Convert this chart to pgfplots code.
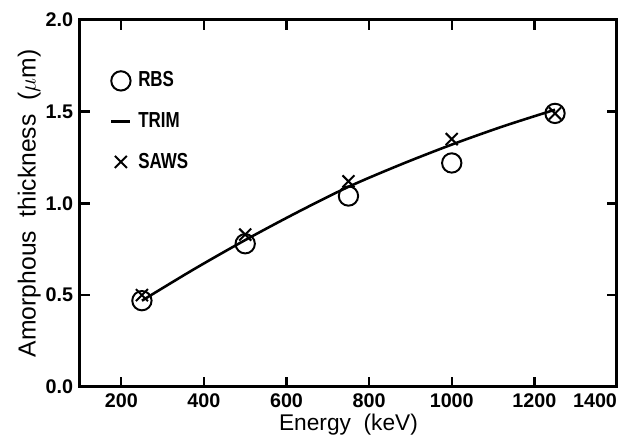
\documentclass[border=0pt]{standalone}
\usepackage{fontspec}
\setmainfont{Liberation Sans}
\newfontfamily\legfont{Liberation Sans}[FakeStretch=0.78]
\usepackage{pgfplots}
\pgfplotsset{compat=1.18}
\begin{document}
\begin{tikzpicture}
\begin{axis}[
  name=ax,
  scale only axis,
  width=272pt, height=186pt,
  xmin=100, xmax=1400, ymin=0, ymax=2.0,
  xtick={200,400,...,1400},
  xticklabels={200,400,600,800,1000,1200,\makebox[0pt][r]{1400}},
  ytick={0,0.5,1.0,1.5,2.0},
  yticklabel style={/pgf/number format/.cd,fixed,fixed zerofill,precision=1},
  /pgf/number format/assume math mode=true,
  tick align=inside,
  major tick length=5pt,
  tick style={line width=1.2pt, black},
  axis line style={line width=1.5pt},
  ticklabel style={font=\fontsize{10}{11}\selectfont\bfseries},
  xlabel={Energy\ \ (keV)},
  ylabel={Amorphous\ \ thickness\ \ ($\mu$m)},
  xlabel style={yshift=4pt, font=\fontsize{11.5}{13}\selectfont},
  ylabel style={yshift=-4.5pt, font=\fontsize{12.5}{14}\selectfont},
  legend style={at={(0.055,0.87)}, anchor=north west, draw=none, fill=none,
    font=\fontsize{11}{12}\selectfont\legfont\bfseries, row sep=7.4pt, inner sep=0pt},
  legend cell align=left,
]
\addplot[only marks, mark=o, mark size=4.9pt, mark options={line width=1pt}] coordinates {
  (250,0.47) (500,0.78) (750,1.04) (1000,1.22) (1250,1.49)};
\addlegendentry{\hspace{1.2pt}RBS}
\addplot[black, line width=1.3pt, smooth, no marks,
  legend image code/.code={\draw[line width=1.5pt] (0.13cm,0cm) -- (0.47cm,0cm);}] coordinates {
  (250,0.47) (375,0.64) (500,0.80) (625,0.95) (750,1.09) (875,1.21) (1000,1.32) (1125,1.42) (1250,1.51)};
\addlegendentry{\hspace{1.2pt}TRIM}
\addplot[only marks, mark=x, mark size=4.3pt, mark options={line width=1pt}] coordinates {
  (250,0.50) (500,0.83) (750,1.12) (1000,1.35) (1250,1.49)};
\addlegendentry{\hspace{1.2pt}SAWS}
\end{axis}
\pgfresetboundingbox
\path ([shift={(-40.5pt,-27pt)}]ax.south west) rectangle ([shift={(6.6pt,10pt)}]ax.north east);
\end{tikzpicture}
\end{document}
